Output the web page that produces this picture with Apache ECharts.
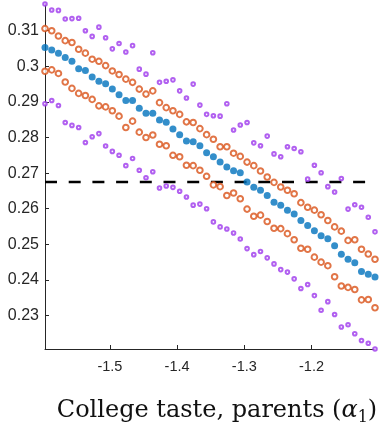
<!DOCTYPE html>
<html>
<head>
<meta charset="utf-8">
<script src="https://cdn.jsdelivr.net/npm/echarts@6/dist/echarts.min.js"></script>
<style>html,body{margin:0;padding:0;background:#fff;}#c{width:385px;height:423px;}</style>
</head>
<body>
<div id="c"></div>
<script>
const xValues = [-1.5966,-1.5866,-1.5766,-1.5665,-1.5565,-1.5465,-1.5365,-1.5264,-1.5164,-1.5064,
  -1.4964,-1.4864,-1.4763,-1.4663,-1.4563,-1.4463,-1.4362,-1.4262,-1.4162,-1.4062,
  -1.3962,-1.3861,-1.3761,-1.3661,-1.3561,-1.3460,-1.3360,-1.3260,-1.3160,-1.3060,
  -1.2959,-1.2859,-1.2759,-1.2659,-1.2558,-1.2458,-1.2358,-1.2258,-1.2158,-1.2057,
  -1.1957,-1.1857,-1.1757,-1.1656,-1.1556,-1.1456,-1.1356,-1.1256,-1.1155,-1.1055];

const blueCenter = [0.3053,0.3046,0.3037,0.3025,0.3014,0.2993,0.2988,0.2970,0.2958,0.2951,
  0.2936,0.2920,0.2904,0.2904,0.2882,0.2868,0.2868,0.2849,0.2843,0.2824,
  0.2808,0.2790,0.2788,0.2777,0.2757,0.2746,0.2731,0.2717,0.2707,0.2701,
  0.2675,0.2660,0.2652,0.2637,0.2618,0.2610,0.2596,0.2585,0.2567,0.2553,
  0.2538,0.2524,0.2516,0.2496,0.2472,0.2458,0.2448,0.2424,0.2416,0.2408];

const orangeUpper = [0.3106,0.3100,0.3085,0.3072,0.3067,0.3048,0.3037,0.3020,0.3014,0.3002,
  0.2987,0.2977,0.2964,0.2955,0.2936,0.2922,0.2931,0.2898,0.2884,0.2875,
  0.2865,0.2844,0.2842,0.2825,0.2808,0.2795,0.2774,0.2774,0.2756,0.2747,
  0.2731,0.2721,0.2706,0.2689,0.2674,0.2661,0.2652,0.2642,0.2617,0.2604,
  0.2596,0.2583,0.2567,0.2549,0.2537,0.2511,0.2513,0.2486,0.2473,0.2458];

const orangeLower = [0.2986,0.2990,0.2980,0.2956,0.2938,0.2924,0.2918,0.2907,0.2889,0.2886,
  0.2875,0.2860,0.2828,0.2846,0.2815,0.2800,0.2807,0.2781,0.2777,0.2750,
  0.2746,0.2722,0.2721,0.2708,0.2691,0.2667,0.2662,0.2637,0.2644,0.2628,
  0.2599,0.2579,0.2582,0.2564,0.2545,0.2544,0.2530,0.2513,0.2489,0.2486,
  0.2464,0.2450,0.2440,0.2409,0.2383,0.2379,0.2373,0.2344,0.2345,0.2322];

const purpleUpper = [0.3175,0.3158,0.3157,0.3133,0.3134,0.3135,0.3100,0.3084,0.3110,0.3080,
  0.3049,0.3064,0.3040,0.3058,0.2992,0.2978,0.3038,0.2955,0.2958,0.2962,
  0.2931,0.2911,0.2950,0.2891,0.2865,0.2861,0.2860,0.2895,0.2821,0.2835,
  0.2842,0.2785,0.2777,0.2804,0.2754,0.2746,0.2774,0.2769,0.2760,0.2683,
  0.2722,0.2701,0.2662,0.2647,0.2685,0.2599,0.2611,0.2604,0.2576,0.2535];

const purpleLower = [0.2895,0.2904,0.2890,0.2842,0.2834,0.2828,0.2786,0.2802,0.2811,0.2776,
  0.2761,0.2750,0.2721,0.2741,0.2708,0.2687,0.2704,0.2658,0.2664,0.2660,
  0.2649,0.2633,0.2610,0.2613,0.2600,0.2563,0.2549,0.2543,0.2532,0.2515,
  0.2488,0.2471,0.2480,0.2462,0.2445,0.2429,0.2422,0.2403,0.2376,0.2387,
  0.2356,0.2315,0.2339,0.2303,0.2268,0.2274,0.2249,0.2230,0.2222,0.2206];

const referenceLevel = 0.2675;
const xTicks = [-1.5, -1.4, -1.3, -1.2];
const yTicks = [0.23, 0.24, 0.25, 0.26, 0.27, 0.28, 0.29, 0.30, 0.31];
const xRange = [-1.5966, -1.1055];
const yRange = [0.2206, 0.3175];

const pair = ys => xValues.map((x, i) => [x, ys[i]]);

const chart = echarts.init(document.getElementById('c'), null, {renderer: 'canvas'});
const axisColor = '#262626';
const purple = '#9d38ec';
const orange = '#D95319';
const blue = '#0072BD';
const serif = 'DejaVu Serif, Liberation Serif, serif';

chart.setOption({
  animation: false,
  backgroundColor: '#fff',
  grid: {left: 45, right: 10, top: 4, bottom: 74, containLabel: false, outerBoundsMode: 'none'},
  xAxis: {
    type: 'value', min: xRange[0], max: xRange[1],
    axisLine: {show: true, lineStyle: {color: axisColor, width: 1}},
    axisTick: {show: true, inside: true, length: 4, customValues: xTicks, lineStyle: {color: axisColor}},
    axisLabel: {customValues: xTicks, margin: 10, fontSize: 14.5, color: axisColor,
      fontFamily: 'Liberation Sans, Arial, sans-serif',
      formatter: v => String(+v.toFixed(2))},
    splitLine: {show: false},
    name: 'College taste, parents ({a|α}{s|1})',
    nameLocation: 'middle',
    nameGap: 47,
    nameTextStyle: {
      fontFamily: serif, fontSize: 24, color: '#111',
      padding: [0, 0, 0, 14], lineHeight: 30,
      rich: {
        a: {fontFamily: serif, fontStyle: 'italic', fontSize: 24, lineHeight: 30, color: '#111'},
        s: {fontFamily: serif, fontSize: 16, lineHeight: 16, verticalAlign: 'bottom', color: '#111'}
      }
    }
  },
  yAxis: {
    type: 'value', min: yRange[0], max: yRange[1],
    axisLine: {show: true, lineStyle: {color: axisColor, width: 1}},
    axisTick: {show: true, inside: true, length: 4, customValues: yTicks, lineStyle: {color: axisColor}},
    axisLabel: {customValues: yTicks, margin: 6, fontSize: 16, color: axisColor,
      fontFamily: 'Liberation Sans, Arial, sans-serif',
      formatter: v => String(+v.toFixed(2))},
    splitLine: {show: false}
  },
  series: [
    {
      type: 'line', data: [[xRange[0], referenceLevel], [xRange[1], referenceLevel]],
      symbol: 'none', z: 1, silent: true,
      lineStyle: {color: '#000', width: 2.6, type: [12, 11.7]}
    },
    {type: 'scatter', data: pair(purpleUpper), symbol: 'emptyCircle', symbolSize: 3.6, z: 2,
      itemStyle: {color: purple, borderColor: purple, borderWidth: 1}},
    {type: 'scatter', data: pair(purpleLower), symbol: 'emptyCircle', symbolSize: 3.6, z: 2,
      itemStyle: {color: purple, borderColor: purple, borderWidth: 1}},
    {type: 'scatter', data: pair(orangeUpper), symbol: 'emptyCircle', symbolSize: 5.6, z: 3,
      itemStyle: {color: orange, borderColor: orange, borderWidth: 1.1}},
    {type: 'scatter', data: pair(orangeLower), symbol: 'emptyCircle', symbolSize: 5.6, z: 3,
      itemStyle: {color: orange, borderColor: orange, borderWidth: 1.1}},
    {type: 'scatter', data: pair(blueCenter), symbol: 'circle', symbolSize: 7, z: 4,
      itemStyle: {color: blue}}
  ]
});
</script>
</body>
</html>
